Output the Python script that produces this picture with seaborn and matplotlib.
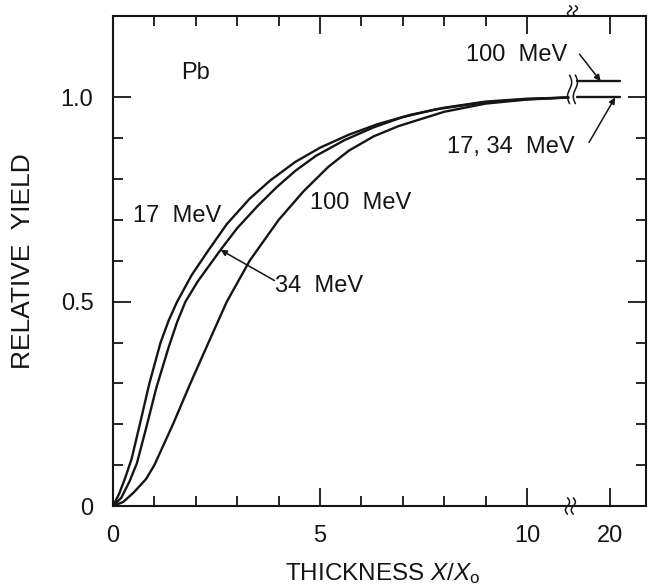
import numpy as np
import pandas as pd
import matplotlib
matplotlib.use("Agg")
import matplotlib.pyplot as plt
import seaborn as sns

# Relative yield versus lead thickness (in radiation lengths X/X0)
t_17 = [0, 0.15, 0.3, 0.45, 0.65, 0.88, 1.15, 1.35, 1.55, 1.9, 2.3, 2.75, 3.3, 3.8,
        4.4, 5.0, 5.7, 6.4, 7.2, 8.0, 9.0, 10.0, 11.0]
y_17 = [0, 0.03, 0.07, 0.115, 0.2, 0.3, 0.4, 0.455, 0.5, 0.565, 0.625, 0.69, 0.752, 0.797,
        0.842, 0.877, 0.909, 0.935, 0.958, 0.975, 0.99, 0.997, 1.0]

t_34 = [0, 0.2, 0.4, 0.58, 0.8, 1.05, 1.35, 1.55, 1.75, 2.05, 2.6, 3.0, 3.5, 3.95,
        4.4, 4.9, 5.6, 6.3, 7.0, 7.8, 8.9, 10.0, 11.0]
y_34 = [0, 0.02, 0.06, 0.105, 0.19, 0.29, 0.39, 0.45, 0.5, 0.55, 0.627, 0.68, 0.735, 0.78,
        0.82, 0.857, 0.896, 0.927, 0.952, 0.971, 0.987, 0.996, 1.0]

t_100 = [0, 0.25, 0.5, 0.8, 1.0, 1.45, 1.87, 2.33, 2.75, 3.3, 4.0, 4.6, 5.2,
         5.7, 6.3, 6.9, 8.0, 9.0, 10.0, 11.0]
y_100 = [0, 0.01, 0.033, 0.066, 0.10, 0.20, 0.30, 0.405, 0.50, 0.60, 0.70, 0.77, 0.83,
         0.87, 0.905, 0.93, 0.965, 0.985, 0.995, 1.0]

# Saturation values past the axis break
far_t = [12.0, 22.5]
far_y_17_34 = 1.0
far_y_100 = 1.04

x_major = [0, 5, 10, 20]
x_major_labels = ["0", "5", "10", "20"]
x_minor = [1, 2, 3, 4, 6, 7, 8, 9]
y_major = [0, 0.5, 1.0]
y_major_labels = ["0", "0.5", "1.0"]
y_minor = [0.1, 0.2, 0.3, 0.4, 0.6, 0.7, 0.8, 0.9]


def axis_pos(t):
    """Broken thickness axis: linear up to 11, compressed beyond the break."""
    t = np.asarray(t, dtype=float)
    return np.where(t <= 11, t, 12 + (t - 20) * 0.1)


curves = pd.concat([
    pd.DataFrame({"thickness": t_17, "yield": y_17, "energy": "17 MeV"}),
    pd.DataFrame({"thickness": t_34, "yield": y_34, "energy": "34 MeV"}),
    pd.DataFrame({"thickness": t_100, "yield": y_100, "energy": "100 MeV"}),
], ignore_index=True)
curves["pos"] = axis_pos(curves["thickness"])

far = pd.concat([
    pd.DataFrame({"thickness": far_t, "yield": [far_y_17_34] * 2, "energy": "17, 34 MeV"}),
    pd.DataFrame({"thickness": far_t, "yield": [far_y_100] * 2, "energy": "100 MeV"}),
], ignore_index=True)
far["pos"] = axis_pos(far["thickness"])

sns.set_theme(style="ticks")
plt.rcParams["font.family"] = ["Liberation Sans", "DejaVu Sans"]
plt.rcParams["mathtext.fontset"] = "custom"
plt.rcParams["mathtext.rm"] = "Liberation Sans"
plt.rcParams["mathtext.it"] = "Liberation Sans:italic"

ink = "#151515"
fig = plt.figure(figsize=(6.49, 5.85), dpi=100)
fig.patch.set_facecolor("white")
ax = fig.add_axes([0.174, 0.135, 0.821, 0.838])

sns.lineplot(data=curves, x="pos", y="yield", units="energy", estimator=None,
             sort=False, color=ink, lw=1.7, ax=ax, legend=False)
sns.lineplot(data=far, x="pos", y="yield", units="energy", estimator=None,
             sort=False, color=ink, lw=1.7, ax=ax, legend=False)

ax.set_xlim(0, 12.87)
ax.set_ylim(0, 1.2)

ax.set_xticks(axis_pos(x_major))
ax.set_xticklabels(x_major_labels)
ax.set_xticks(x_minor, minor=True)
ax.set_yticks(y_major)
ax.set_yticklabels(y_major_labels)
ax.set_yticks(y_minor, minor=True)

for side in ["left", "right", "top", "bottom"]:
    ax.spines[side].set_visible(True)
    ax.spines[side].set_color(ink)
    ax.spines[side].set_linewidth(1.5)

ax.tick_params(which="both", direction="in", top=True, right=True,
               color=ink, width=1.3, labelcolor=ink)
ax.tick_params(which="major", length=13, labelsize=17, pad=14)
ax.tick_params(which="minor", length=7.5)

ax.set_xlabel("THICKNESS $X/X_{\\rm o}$", fontsize=17.5, color=ink)
ax.xaxis.set_label_coords(0.507, -0.112)
ax.set_ylabel("RELATIVE  YIELD", fontsize=19, color=ink)
ax.yaxis.set_label_coords(-0.146, 0.5)


def squiggle(u, y, h, du=0.14, amp=0.05):
    s = np.linspace(-1, 1, 40)
    for off in (-du / 2, du / 2):
        ax.plot(u + off + amp * np.sin(np.pi * s), y + h * s / 2,
                color=ink, lw=1.1, clip_on=False)


# Axis break marks
squiggle(11.1, 1.02, 0.07)
squiggle(11.05, 0.0, 0.04)
squiggle(11.1, 1.212, 0.025)

label_kw = dict(fontsize=17, color=ink, va="center", ha="left")
ax.text(1.64, 1.059, "Pb", **label_kw)
ax.text(0.48, 0.711, "17  MeV", **label_kw)
ax.text(4.76, 0.742, "100  MeV", **label_kw)
ax.text(3.92, 0.538, "34  MeV", **label_kw)
ax.text(8.08, 0.88, "17, 34  MeV", **label_kw)
ax.text(8.52, 1.104, "100  MeV", **label_kw)

arrow = dict(arrowstyle="-|>", color=ink, lw=1.1, mutation_scale=9,
             shrinkA=0, shrinkB=0)
ax.annotate("", xy=(11.78, far_y_100), xytext=(11.27, 1.106), arrowprops=arrow)
ax.annotate("", xy=(12.13, far_y_17_34), xytext=(11.5, 0.89), arrowprops=arrow)
ax.annotate("", xy=(2.6, 0.627), xytext=(3.9, 0.552), arrowprops=arrow)

fig.savefig("out.png", dpi=100, facecolor="white")
